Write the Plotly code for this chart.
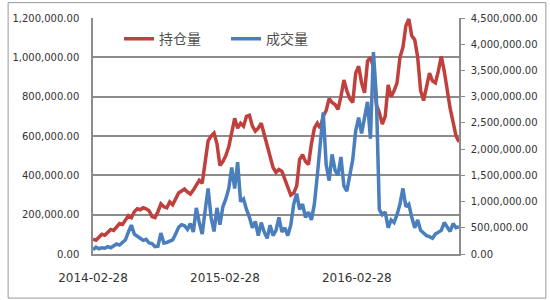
import pandas as pd
import plotly.graph_objects as go

start_date = "2014-02-28"
tick_dates = ["2014-02-28", "2015-02-28", "2016-02-28"]
series_names = ["持仓量", "成交量"]

open_interest = [
    75000, 70000, 85000, 100000, 95000, 110000, 125000, 120000, 140000, 155000,
    150000, 175000, 195000, 185000, 215000, 230000, 225000, 235000, 230000, 220000,
    190000, 185000, 215000, 255000, 240000, 235000, 265000, 250000, 285000, 310000,
    320000, 330000, 315000, 305000, 325000, 350000, 375000, 360000,
    460000, 575000, 600000, 615000, 560000, 450000, 470000, 500000, 545000, 625000,
    690000, 640000, 665000, 650000, 700000, 705000, 650000, 625000, 640000, 665000,
    610000, 560000, 490000, 440000, 415000, 430000, 420000, 380000, 330000, 300000,
    310000, 345000, 480000, 505000, 470000, 455000, 560000, 640000, 665000, 640000,
    700000, 730000, 790000, 770000, 760000, 735000, 800000, 885000, 830000, 790000,
    770000, 920000, 955000, 870000, 820000, 980000, 1000000, 950000, 760000, 720000,
    660000, 700000, 860000, 800000, 830000, 870000, 1000000, 1050000, 1160000, 1195000,
    1110000, 1090000, 1000000, 830000, 780000, 850000, 920000, 880000, 870000, 930000,
    1005000, 930000, 830000, 740000, 670000, 600000, 570000,
]

volume = [
    80000, 130000, 100000, 120000, 110000, 140000, 120000, 150000, 190000, 170000,
    230000, 270000, 420000, 550000, 380000, 330000, 300000, 260000, 280000, 210000,
    200000, 140000, 150000, 400000, 210000, 220000, 240000, 270000, 380000, 510000,
    560000, 540000, 470000, 580000, 420000, 880000, 600000, 380000,
    830000, 1250000, 700000, 430000, 880000, 560000, 900000, 1050000, 1250000, 1650000,
    1250000, 1750000, 1000000, 1050000, 850000, 700000, 500000, 620000, 350000, 600000,
    420000, 300000, 550000, 350000, 450000, 700000, 420000, 500000, 350000, 550000,
    950000, 1150000, 850000, 950000, 700000, 800000, 650000, 950000, 1500000, 2100000,
    2700000, 1700000, 1400000, 1900000, 1600000, 1500000, 1850000, 1300000, 1200000, 1500000,
    1800000, 2350000, 2600000, 2300000, 2600000, 2900000, 2200000, 3850000, 3000000, 850000,
    750000, 800000, 500000, 650000, 600000, 750000, 950000, 1250000, 900000, 950000,
    700000, 500000, 650000, 450000, 400000, 350000, 330000, 300000, 380000, 420000,
    450000, 600000, 520000, 430000, 580000, 500000, 520000,
]

dates = pd.date_range(start_date, periods=len(open_interest), freq="8D4h")

RED = "#C0403E"
BLUE = "#4A7EBD"
GRID = "#8C8C8C"
TXT = "#333333"

fig = go.Figure()
fig.add_trace(go.Scatter(x=dates, y=open_interest, name=series_names[0], mode="lines",
                         line=dict(color=RED, width=3.5), yaxis="y"))
fig.add_trace(go.Scatter(x=dates, y=volume, name=series_names[1], mode="lines",
                         line=dict(color=BLUE, width=3.5), yaxis="y2"))

fig.update_layout(
    width=550, height=300,
    margin=dict(l=87, r=90, t=16, b=46),
    paper_bgcolor="white", plot_bgcolor="white",
    font=dict(family="DejaVu Sans", size=10, color=TXT),
    showlegend=True,
    legend=dict(orientation="h", x=0.071, y=0.91, xanchor="left", yanchor="middle",
                bgcolor="rgba(0,0,0,0)", entrywidth=62,
                font=dict(family="Noto Sans CJK SC", size=14, color="#505050")),
    xaxis=dict(type="date", range=[dates[0], dates[-1]], tickvals=tick_dates,
               ticktext=tick_dates, showgrid=False, showline=True, linecolor=GRID,
               linewidth=1.5, ticks="", tickfont=dict(size=12, color=TXT),
               ticklabelstandoff=12, zeroline=False),
    yaxis=dict(range=[0, 1200000], dtick=200000, tickformat=",.2f", showgrid=True,
               gridcolor=GRID, gridwidth=1.5, showline=True, linecolor=GRID, linewidth=1.5,
               ticks="", ticklabelstandoff=10, zeroline=False),
    yaxis2=dict(range=[0, 4500000], dtick=500000, tickformat=",.2f", overlaying="y",
                side="right", showgrid=False, showline=True, linecolor=GRID, linewidth=1.5,
                ticks="outside", ticklen=4, tickcolor=GRID, ticklabelstandoff=4,
                zeroline=False),
    shapes=[dict(type="rect", xref="paper", yref="paper", x0=-0.2319, x1=1.2373,
                 y0=-0.187, y1=1.0651, line=dict(color="#999999", width=1))],
)

fig.write_html("out.html")
